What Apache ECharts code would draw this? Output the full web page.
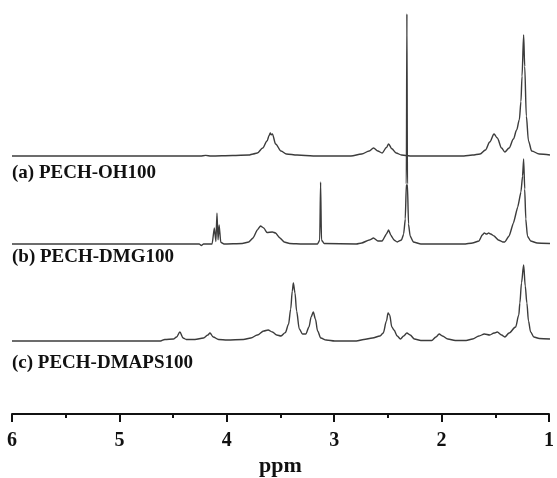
<!DOCTYPE html>
<html>
<head>
<meta charset="utf-8">
<script src="https://cdn.jsdelivr.net/npm/echarts@6/dist/echarts.min.js"></script>
<style>html,body{margin:0;padding:0;background:#fff;}#c{width:557px;height:478px;}</style>
</head>
<body>
<div id="c"></div>
<script>
// Spectra: [chemical shift (ppm), relative intensity (1.25 ppm peak = 100)]
var specA = [[6.0,0],[4.25,0],[4.2,0.5],[4.15,0],[3.95,0.4],[3.8,0.8],[3.76,1.7],[3.72,2.5],[3.67,6.6],[3.63,12.4],[3.61,17],[3.60,19],[3.59,17.5],[3.58,18.2],[3.55,9.9],[3.5,4.1],[3.45,1.7],[3.35,0.8],[3.2,0],[2.85,0],[2.75,1.7],[2.68,4.1],[2.64,6.6],[2.60,4.1],[2.56,2.5],[2.52,7],[2.50,9.9],[2.47,6],[2.43,2.5],[2.38,0.8],[2.3,0],[1.8,0],[1.72,0.8],[1.65,1.7],[1.60,5],[1.56,11.6],[1.52,18.2],[1.49,14.9],[1.45,6.6],[1.42,3.3],[1.38,6.6],[1.34,14],[1.31,21.5],[1.285,30],[1.27,45],[1.26,66],[1.245,100],[1.235,74],[1.22,33],[1.20,12.4],[1.17,4.1],[1.10,1.7],[1.0,0.8]];
var specB = [[6.0,0],[4.26,0],[4.24,-1.8],[4.22,0],[4.14,0],[4.12,18.8],[4.105,3],[4.095,36.5],[4.085,5],[4.075,22.4],[4.06,2],[4.03,0],[3.86,0.6],[3.8,2.4],[3.76,7],[3.72,16.5],[3.69,21.2],[3.66,18.8],[3.63,13.5],[3.58,14.1],[3.55,12.9],[3.51,7],[3.47,2.4],[3.42,0.6],[3.3,0],[3.16,0],[3.14,4.7],[3.132,72.9],[3.124,4.7],[3.10,0.6],[2.8,0],[2.75,1.2],[2.68,4.7],[2.64,7],[2.60,3.5],[2.56,3.5],[2.52,11.8],[2.50,16.5],[2.48,10.6],[2.45,4.7],[2.42,2.4],[2.38,4.7],[2.36,11.8],[2.345,29.4],[2.335,70.6],[2.33,270.6],[2.325,70.6],[2.315,23.5],[2.30,9.4],[2.27,2.4],[2.2,0],[1.8,0],[1.72,1.2],[1.66,3.5],[1.63,10.6],[1.61,12.9],[1.59,11.8],[1.57,12.9],[1.55,11.8],[1.52,9.4],[1.48,4.7],[1.44,2.4],[1.42,2.4],[1.38,9.4],[1.34,24.7],[1.30,43.5],[1.27,61.2],[1.255,80],[1.245,100],[1.235,64.7],[1.225,29.4],[1.21,9.4],[1.18,3.5],[1.12,1.2],[1.0,0.6]];
var specC = [[6.0,0],[4.62,0],[4.58,2],[4.5,2.6],[4.47,5.3],[4.44,11.8],[4.41,3.9],[4.38,2],[4.3,2],[4.22,3.9],[4.18,7.9],[4.16,10.5],[4.13,5.3],[4.08,2],[4.0,1.3],[3.85,2],[3.78,3.9],[3.72,7.9],[3.66,13.2],[3.62,14.5],[3.58,11.8],[3.54,7.9],[3.50,6.6],[3.46,11],[3.43,22],[3.41,42],[3.395,65.8],[3.385,76.3],[3.37,63.2],[3.355,39.5],[3.33,15.8],[3.30,9.2],[3.27,9.2],[3.24,18.4],[3.22,31.6],[3.20,38.2],[3.18,28.9],[3.16,13.2],[3.13,3.9],[3.08,1.3],[3.0,0],[2.8,0],[2.73,2],[2.65,3.9],[2.58,6.6],[2.55,10.5],[2.52,26.3],[2.505,36.8],[2.49,34.2],[2.47,18.4],[2.45,14.5],[2.42,6.6],[2.39,2.6],[2.36,6.6],[2.33,10.5],[2.30,7.9],[2.26,2.6],[2.2,0.7],[2.1,0.7],[2.06,5.3],[2.03,9.2],[2.0,6.6],[1.95,2.6],[1.88,0.7],[1.78,0.7],[1.72,2.6],[1.66,6.6],[1.61,9.2],[1.56,7.9],[1.52,10.5],[1.49,11.8],[1.45,7.9],[1.42,5.3],[1.38,10.5],[1.32,18.4],[1.29,34.2],[1.28,50],[1.265,76.3],[1.245,100],[1.23,72.4],[1.215,50],[1.20,26.3],[1.18,11.8],[1.15,5.3],[1.10,3.3],[1.0,2.6]];
var traceNames = ['(a) PECH-OH100', '(b) PECH-DMG100', '(c) PECH-DMAPS100'];
var axisName = 'ppm';

var serif = '"Liberation Serif", "Times New Roman", serif';
var chart = echarts.init(document.getElementById('c'), null, {renderer: 'canvas'});

function hiddenX(i) {
  return {type: 'value', gridIndex: i, min: 1, max: 6, inverse: true, show: false};
}
function hiddenY(i) {
  return {type: 'value', gridIndex: i, min: 0, max: 100, show: false};
}
function trace(data, i, sm) {
  return {
    type: 'line', xAxisIndex: i, yAxisIndex: i, data: data,
    showSymbol: false, symbol: 'none', clip: false,
    smooth: sm, smoothMonotone: 'x',
    lineStyle: {color: '#3c3c3c', width: 1.4},
    silent: true, animation: false
  };
}

chart.setOption({
  animation: false,
  backgroundColor: '#fff',
  grid: [
    {left: 12, right: 7, top: 35, height: 121},
    {left: 12, right: 7, top: 159, height: 85},
    {left: 12, right: 7, top: 265, height: 76},
    {left: 12, right: 7, top: 404, height: 10}
  ],
  xAxis: [
    hiddenX(0), hiddenX(1), hiddenX(2),
    {
      type: 'value', gridIndex: 3, min: 1, max: 6, interval: 1, inverse: true,
      splitLine: {show: false},
      axisLine: {show: true, lineStyle: {color: '#111', width: 2}},
      axisTick: {show: true, inside: false, length: 8, lineStyle: {color: '#111', width: 2}},
      minorTick: {show: true, splitNumber: 2, length: 4, lineStyle: {color: '#111', width: 2}},
      axisLabel: {color: '#111', fontFamily: serif, fontWeight: 'bold', fontSize: 20, margin: 17},
      name: axisName, nameLocation: 'middle', nameGap: 41,
      nameTextStyle: {color: '#111', fontFamily: serif, fontWeight: 'bold', fontSize: 22}
    }
  ],
  yAxis: [hiddenY(0), hiddenY(1), hiddenY(2), hiddenY(3)],
  series: [trace(specA, 0, 0.3), trace(specB, 1, 0.15), trace(specC, 2, 0.3)],
  graphic: [
    {type: 'text', left: 12, top: 164, style: {text: traceNames[0], font: 'bold 19px ' + serif, fill: '#111'}},
    {type: 'text', left: 12, top: 248, style: {text: traceNames[1], font: 'bold 19px ' + serif, fill: '#111'}},
    {type: 'text', left: 12, top: 354, style: {text: traceNames[2], font: 'bold 19px ' + serif, fill: '#111'}}
  ]
});
</script>
</body>
</html>
